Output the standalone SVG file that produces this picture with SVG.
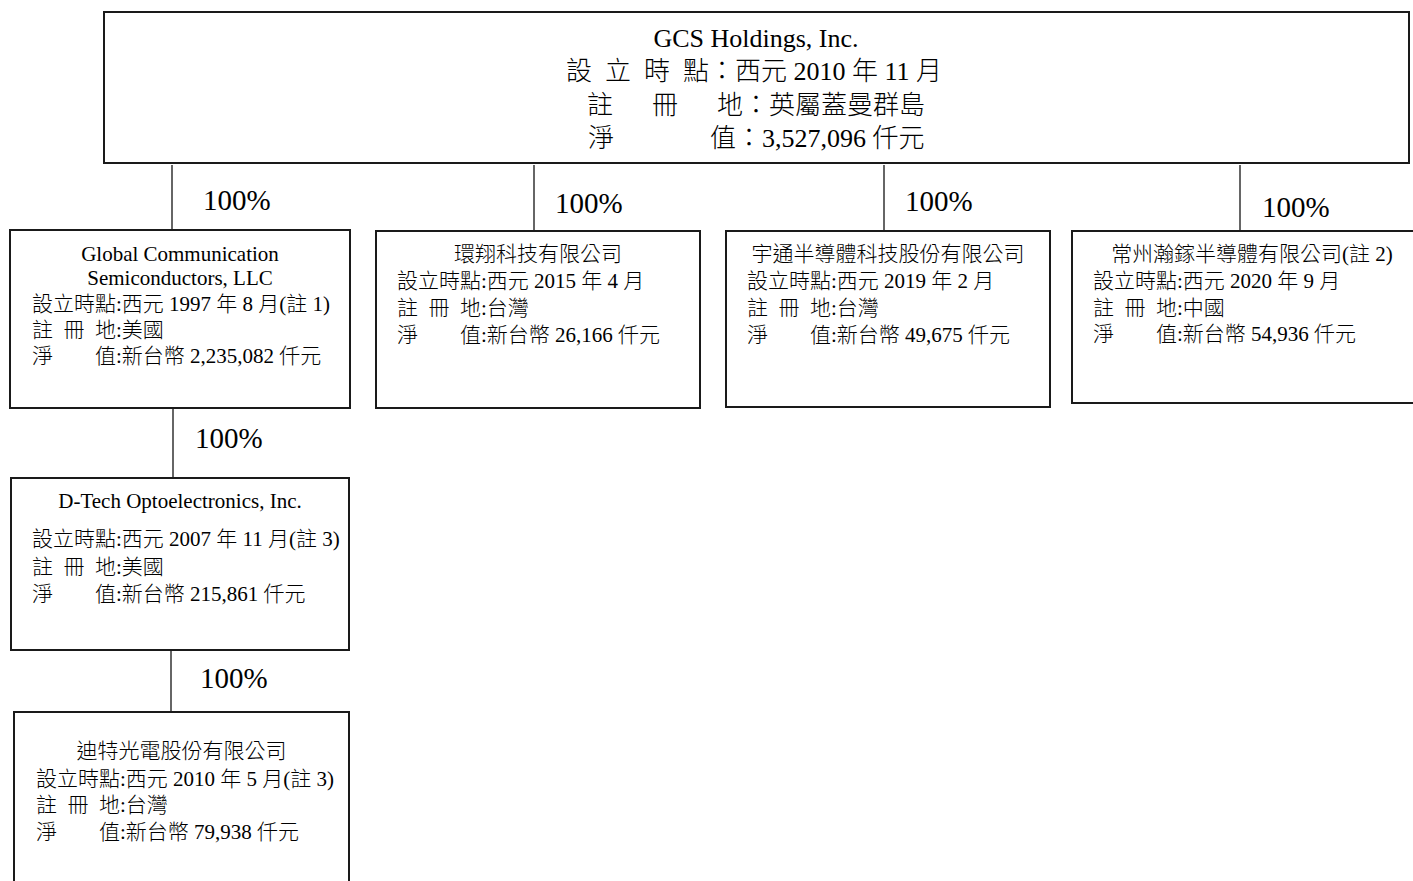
<svg xmlns="http://www.w3.org/2000/svg" width="1413" height="881" viewBox="0 0 1413 881">
<style>
text{font-family:"Liberation Serif","Noto Sans CJK TC",serif;fill:#000;font-weight:300}
.box{fill:#fff;stroke:#1a1a1a;stroke-width:2}
.conn{stroke:#333;stroke-width:1.5;fill:none}
.pct{font-size:29px}
.t{font-size:26px}
.s{font-size:21px}
.c{text-anchor:middle}
</style>
<rect width="1413" height="881" fill="#fff"/>
<g id="connectors">
<line class="conn" x1="172" y1="165" x2="172" y2="230"/>
<line class="conn" x1="534" y1="165" x2="534" y2="231"/>
<line class="conn" x1="884" y1="165" x2="884" y2="231"/>
<line class="conn" x1="1240" y1="165" x2="1240" y2="231"/>
<line class="conn" x1="173" y1="408" x2="173" y2="478"/>
<line class="conn" x1="171" y1="650" x2="171" y2="712"/>
<text class="pct" x="203" y="210">100%</text>
<text class="pct" x="555" y="213">100%</text>
<text class="pct" x="905" y="211">100%</text>
<text class="pct" x="1262" y="217">100%</text>
<text class="pct" x="195" y="448">100%</text>
<text class="pct" x="200" y="688">100%</text>
</g>
<g id="gcs-holdings">
<rect class="box" x="104" y="12" width="1305" height="151"/>
<text class="t c" x="756" y="47">GCS Holdings, Inc.</text>
<text class="t" y="80"><tspan x="566">設 </tspan><tspan x="605">立 </tspan><tspan x="644">時 </tspan><tspan x="683">點：西元 2010 年 11 月</tspan></text>
<text class="t" y="114"><tspan x="587">註 </tspan><tspan x="652">冊 </tspan><tspan x="717">地：英屬蓋曼群島</tspan></text>
<text class="t" y="147"><tspan x="588">淨 </tspan><tspan x="710">值：3,527,096 仟元</tspan></text>
</g>
<g id="gcs-llc">
<rect class="box" x="10" y="230" width="340" height="178"/>
<text class="s c" x="180" y="261">Global Communication</text>
<text class="s c" x="180" y="285">Semiconductors, LLC</text>
<text class="s" x="32" y="311">設立時點:西元 1997 年 8 月(註 1)</text>
<text class="s" y="337"><tspan x="32">註 </tspan><tspan x="63.5">冊 </tspan><tspan x="95">地:美國</tspan></text>
<text class="s" y="363"><tspan x="32">淨 </tspan><tspan x="95">值:新台幣 2,235,082 仟元</tspan></text>
</g>
<g id="huanxiang">
<rect class="box" x="376" y="231" width="324" height="177"/>
<text class="s c" x="538" y="261">環翔科技有限公司</text>
<text class="s" x="397" y="288">設立時點:西元 2015 年 4 月</text>
<text class="s" y="315"><tspan x="397">註 </tspan><tspan x="428.5">冊 </tspan><tspan x="460">地:台灣</tspan></text>
<text class="s" y="342"><tspan x="397">淨 </tspan><tspan x="460">值:新台幣 26,166 仟元</tspan></text>
</g>
<g id="yutong">
<rect class="box" x="726" y="231" width="324" height="176"/>
<text class="s c" x="888" y="261">宇通半導體科技股份有限公司</text>
<text class="s" x="747" y="288">設立時點:西元 2019 年 2 月</text>
<text class="s" y="315"><tspan x="747">註 </tspan><tspan x="778.5">冊 </tspan><tspan x="810">地:台灣</tspan></text>
<text class="s" y="342"><tspan x="747">淨 </tspan><tspan x="810">值:新台幣 49,675 仟元</tspan></text>
</g>
<g id="changzhou">
<rect class="box" x="1072" y="231" width="361" height="172"/>
<text class="s c" x="1252" y="261">常州瀚鎵半導體有限公司(註 2)</text>
<text class="s" x="1093" y="288">設立時點:西元 2020 年 9 月</text>
<text class="s" y="315"><tspan x="1093">註 </tspan><tspan x="1124.5">冊 </tspan><tspan x="1156">地:中國</tspan></text>
<text class="s" y="341"><tspan x="1093">淨 </tspan><tspan x="1156">值:新台幣 54,936 仟元</tspan></text>
</g>
<g id="dtech">
<rect class="box" x="11" y="478" width="338" height="172"/>
<text class="s c" x="180" y="508">D-Tech Optoelectronics, Inc.</text>
<text class="s" x="32" y="546">設立時點:西元 2007 年 11 月(註 3)</text>
<text class="s" y="574"><tspan x="32">註 </tspan><tspan x="63.5">冊 </tspan><tspan x="95">地:美國</tspan></text>
<text class="s" y="601"><tspan x="32">淨 </tspan><tspan x="95">值:新台幣 215,861 仟元</tspan></text>
</g>
<g id="ditei">
<rect class="box" x="14" y="712" width="335" height="190"/>
<text class="s c" x="181.5" y="758">迪特光電股份有限公司</text>
<text class="s" x="36" y="786">設立時點:西元 2010 年 5 月(註 3)</text>
<text class="s" y="812"><tspan x="36">註 </tspan><tspan x="67.5">冊 </tspan><tspan x="99">地:台灣</tspan></text>
<text class="s" y="839"><tspan x="36">淨 </tspan><tspan x="99">值:新台幣 79,938 仟元</tspan></text>
</g>
</svg>
